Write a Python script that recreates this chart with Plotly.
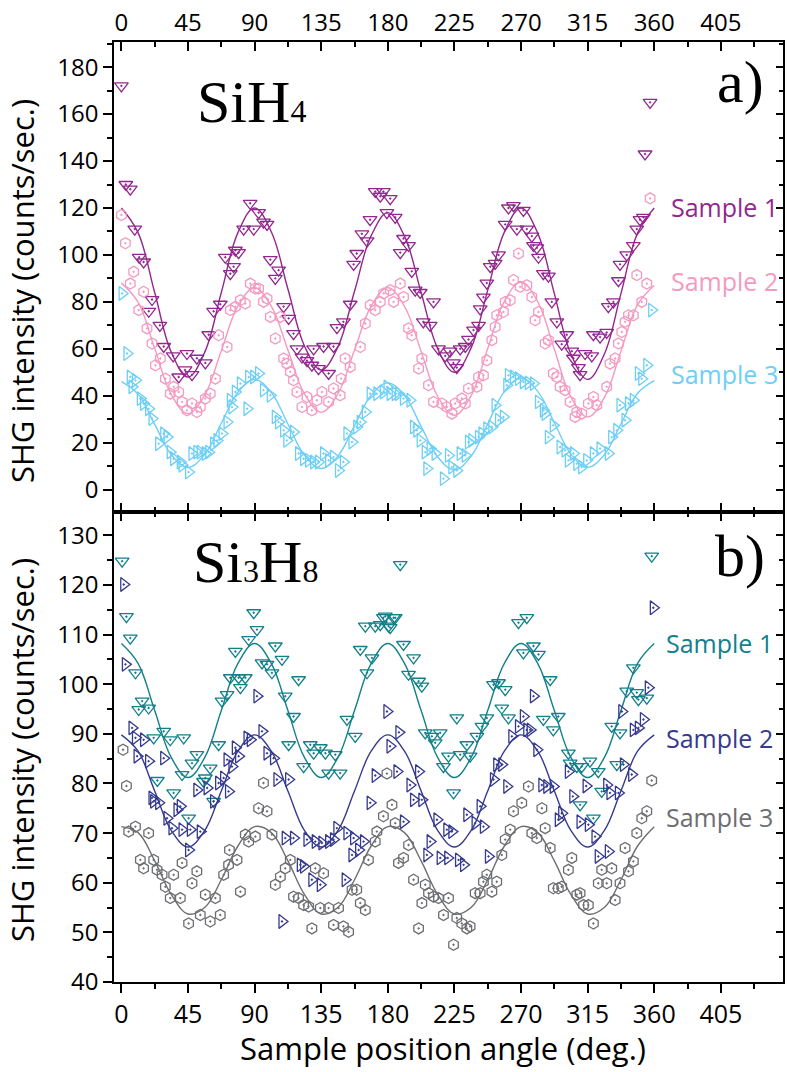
import plotly.graph_objects as go

# ---------------- SiH4 panel (top) ----------------
sih4_s1_angle = [0, 3, 6, 9, 12, 15, 18.5, 20.7, 26, 28.6, 35, 38.7, 43, 44.3, 47.7, 51, 56.7, 59, 62.3, 66.8,
                 70.2, 73.6, 75.8, 77, 79.2, 82.6, 87, 89.4, 92.7, 96, 98.4, 100.6, 104, 106.2, 109.6, 113, 116.3,
                 118.6, 122, 125.4, 128.7, 129.9, 133.2, 136.6, 140, 143.3, 145.6, 150, 154.6, 156.9, 159, 162.5,
                 166, 168, 171.5, 174.9, 177, 179.4, 181.6, 185, 188.4, 190.6, 194, 196.2, 198.5, 201.9, 204,
                 208.6, 210.9, 214.2, 218.8, 222, 224.3, 226.6, 228.9, 232.3, 234.5, 237.9, 241.3, 242.4, 244.6,
                 246.9, 249.2, 252.5, 254.8, 259.3, 261.5, 264.9, 267.2, 271.6, 273.9, 277.3, 278.4, 280.7, 281.8,
                 285.1, 288.5, 290.8, 294.2, 297.5, 300.9, 304.3, 305.4, 308.8, 309.9, 313.3, 317.8, 318.9, 323.4,
                 327.9, 329, 332.4, 335.8, 336.9, 341.4, 345.9, 348.2, 350.4, 352.7, 353.8, 357.2]
sih4_s1_shg = [172, 130, 128, 111, 99, 97, 76, 81, 70, 61, 57, 48, 51, 58, 49, 56, 54, 66, 76, 79,
               99, 92, 95, 102, 101, 111, 122, 111, 118, 114, 113, 98, 90, 93.5, 78, 73, 66.5,
               60, 56.5, 55, 53, 60, 51.6, 61, 49.5, 61, 69, 71.5, 79, 96, 100.6, 109,
               106, 115, 127, 125, 127, 118, 124, 116, 101, 107, 104, 93, 85, 84, 71.5,
               70, 80, 60, 57, 59, 54, 52, 60, 61, 64, 68, 70, 77, 82,
               88, 95, 96.4, 100, 113, 120, 121, 111, 119, 111, 108, 104, 103, 99,
               92, 91, 80, 71.5, 62, 66, 59, 56, 52, 49, 58, 57, 66, 65,
               67, 78, 80, 89, 96, 100, 104, 111, 115, 116, 143, 165]

sih4_s2_angle = [0, 2.7, 6, 8.3, 11.7, 15, 17.3, 20.7, 23, 26.3, 29.7, 33, 35.3, 38.7, 41, 44.3, 47.7, 51, 53.3,
                 56.7, 60, 63.5, 65.7, 71.4, 73.6, 77, 80.4, 83.7, 87.1, 90.5, 92.7, 96, 98.4, 100.6, 104, 107.4,
                 109.6, 111.8, 114.1, 116.3, 118.6, 122, 125.4, 128.7, 132.1, 135.5, 140, 143.3, 147.8, 148.5,
                 151.2, 154.6, 161.4, 164.8, 168.1, 171.5, 174.9, 177.2, 181.6, 183.9, 188.4, 190.6, 194, 196.2,
                 200.8, 203, 207.5, 210.9, 216.5, 219.9, 223.3, 225.5, 230, 232.3, 234.5, 240.2, 241.3, 244.6,
                 246.9, 250.3, 252.5, 253.6, 258.1, 259.3, 262.7, 264.9, 268.3, 269.4, 273.9, 277.3, 279.5, 281.8,
                 286.3, 288.5, 291.8, 294.2, 296.4, 299.8, 303.2, 306.5, 307.7, 311, 315.5, 318.9, 321.2, 327.9,
                 330.1, 333.6, 335.8, 338.1, 340.3, 342.6, 345.9, 348.2, 351.6, 355, 357.2]
sih4_s2_shg = [117, 105, 87.8, 92.8, 76.5, 84.3, 68.7, 62.3, 53, 55.9, 47.3, 40.9, 43.8, 41.6, 37.4, 33.8, 36.7,
               33.1, 35.2, 38.8, 40.9, 47.3, 65.8, 60.8, 76.5, 77.9, 80.7, 79.3, 87.8, 85.7, 85.7, 80, 81.4, 73.6,
               64.4, 73.6, 55.9, 53.7, 50.2, 46.6, 41.6, 35.2, 39.5, 33.8, 38.1, 41.6, 37.4, 43.1, 40.2, 47.3,
               55.9, 52.3, 60.8, 70.8, 78.6, 76.5, 80, 83.6, 85, 80, 87.8, 82.1, 68.7, 65.8, 51.6, 55.9, 44.5,
               37.4, 36.7, 35.2, 32.4, 36.7, 38.8, 36.7, 43.1, 43.8, 48, 48.7, 55.1, 63.7, 69.3, 74.3, 75.7, 80,
               80.7, 89.3, 100.6, 86.4, 87.1, 82.1, 72.2, 75.7, 62.3, 63.7, 49.5, 48, 43.8, 42.4, 37.4, 31, 33.1,
               32.4, 36.7, 39.5, 36, 43.8, 53.7, 55.9, 62.3, 67.2, 71.5, 74.3, 74.3, 91.4, 80, 87.8, 124.1]

sih4_s3_angle = [0.5, 3.8, 6, 7.2, 9.5, 12.8, 15, 18.4, 20.7, 25.2, 28.6, 30.9, 33, 35.3, 39.8, 41, 45.4, 47.7,
                 51, 53.3, 56.7, 59, 62.3, 64.6, 68, 71.4, 73.6, 74.7, 77, 80.4, 84.9, 86, 89.4, 92.7, 96, 100.6,
                 104, 106.2, 109.6, 111.8, 116.3, 119.7, 123.1, 126.5, 129.9, 133.2, 136.6, 140, 143.3, 146.7, 150,
                 152.4, 155.8, 159, 161.4, 164.8, 168.1, 172.6, 177, 179.5, 181.6, 185, 187.2, 190.6, 195, 197.4,
                 199.6, 201.9, 205.3, 206.4, 208.6, 212, 217.6, 221, 223.3, 226.6, 228.9, 232.3, 234.5, 236.8,
                 241.3, 243.6, 246.9, 250.3, 252.5, 254.8, 258.1, 260.4, 261.5, 264.9, 268.3, 271.6, 275, 278.4,
                 281.8, 285.1, 286.3, 288.5, 291.8, 296.4, 299.8, 302, 305.4, 307.7, 311, 314.4, 318.9, 323.4, 329,
                 331.3, 334.7, 336.9, 340.3, 342.6, 345.9, 349.3, 351.6, 355, 358.3]
sih4_s3_shg = [83.6, 58, 48, 43.8, 46.6, 38.8, 36.7, 34.5, 30.3, 19.6, 23.9, 22.4, 16, 13.2, 11.8, 10.4, 7.5,
               15.4, 16, 16, 15.4, 16, 19.6, 21, 23.9, 28.8, 38.1, 35.2, 41.6, 45.2, 34.5, 48, 48, 49.5, 42.4,
               40.2, 31, 28.8, 25.3, 21, 24.6, 15.4, 13.2, 12.5, 11.8, 11.8, 15.4, 12.5, 13.9, 8.2, 11.8, 23.9,
               20.3, 26.7, 28.8, 33.1, 40.9, 40.9, 41.6, 43.8, 40.9, 40.9, 40.9, 38.8, 38.1, 26.7, 25.3, 21, 16,
               9, 17.5, 15.4, 4.7, 14.6, 9.6, 8.2, 15.4, 14.6, 20.3, 21, 22.4, 23.9, 26, 26.7, 36, 29.6, 31,
               44.5, 48.7, 48, 47.3, 45.9, 45.5, 45.2, 37.4, 33.8, 32.4, 22.4, 27.4, 18.2, 16.8, 12.5, 15.4, 11.1,
               9.6, 12.5, 15.4, 17.5, 15.4, 22.4, 25.3, 36, 29.6, 36.7, 38.1, 49.5, 47.3, 53, 76.5]

# fitted curves, sampled every 11.25 deg
fit_angle = [0, 11.25, 22.5, 33.75, 45, 56.25, 67.5, 78.75, 90, 101.25, 112.5, 123.75, 135, 146.25, 157.5,
             168.75, 180, 191.25, 202.5, 213.75, 225, 236.25, 247.5, 258.75, 270, 281.25, 292.5, 303.75, 315,
             326.25, 337.5, 348.75, 360]
sih4_s1_fit = [120, 109.5, 84, 58.5, 48, 58.5, 84, 109.5, 120, 109.9, 85.5, 61.1, 51, 60.8, 84.5, 108.2, 118,
               108, 84, 60, 50, 60.3, 85, 109.7, 120, 109.3, 83.5, 57.7, 47, 57.7, 83.5, 109.3, 120]
sih4_s2_fit = [88, 79.9, 60.2, 40.5, 32.4, 40.3, 59.2, 78.2, 86, 78.2, 59.5, 40.8, 33, 40.8, 59.5, 78.2, 86,
               78.1, 58.9, 39.7, 31.7, 40, 60.1, 80.2, 88.5, 80.1, 59.8, 39.4, 31, 39.2, 59, 78.8, 87]
sih4_s3_fit = [46, 40.7, 27.8, 14.9, 9.5, 15, 28.3, 41.5, 47, 41.4, 28, 14.6, 9, 14.3, 27.3, 40.2, 45.5,
               40.1, 27, 13.9, 8.5, 14.2, 28, 41.8, 47.5, 41.9, 28.5, 15.1, 9.5, 14.9, 28, 41.1, 46.5]

# ---------------- Si3H8 panel (bottom) ----------------
si3h8_s1_angle = [0.5, 3.4, 6, 9.5, 11.7, 14, 18.4, 21.8, 24.3, 28.6, 33, 35.3, 41, 42.1, 45.4, 47.7, 51, 55.5,
                  56.7, 60, 62.3, 65.7, 68, 71.4, 73.6, 77, 79.2, 80.4, 83.7, 86, 89.4, 91.6, 95, 98.4, 101.7,
                  104, 108.5, 110.7, 113, 116.3, 119.7, 123.1, 127.6, 129.9, 134.4, 137.8, 140, 144.5, 147.8,
                  152.4, 158, 161.4, 164.8, 165.9, 169.3, 171.5, 174.9, 177, 178.3, 180.5, 181.6, 183.9, 185,
                  188.4, 190.6, 194, 197.4, 200.8, 203, 205.3, 209.8, 212, 215.4, 217.6, 221, 224.4, 226.6, 228.9,
                  233.4, 235.6, 240.2, 243.6, 246.9, 251.4, 254.8, 257, 259.3, 261.5, 268.3, 271.6, 273.9, 278.4,
                  281.8, 285.1, 289.7, 291.8, 295.2, 302, 303.2, 307.7, 309.9, 311, 316.6, 318.9, 322.2, 324.5,
                  331.3, 334.7, 336.9, 341.4, 345.9, 348.2, 349.3, 355, 358.3]
si3h8_s1_shg = [124.8, 113.6, 109.3, 102.3, 94.9, 96.6, 95.2, 89.2, 80.6, 90.5, 88.8, 78.1, 81.8, 89.2, 73,
                84.1, 85.8, 80.4, 81.1, 83.1, 76.4, 87.8, 96.6, 97.9, 101.3, 106.6, 101.3, 99.3, 101.3, 109,
                114.4, 111, 104.3, 104, 102.3, 107.7, 105, 97.6, 87.8, 93.5, 100.9, 83.4, 87.8, 86.1, 87.2, 86.1,
                82.1, 85.8, 82.1, 92.9, 89.5, 107, 111.7, 102.3, 105.3, 111.7, 112, 113.4, 113.7, 111.7, 111.4,
                113.4, 113.4, 124.1, 108, 102, 105.3, 100.6, 99.6, 90.2, 89.5, 88.2, 90.2, 83.4, 85.5, 78.1, 93.2,
                85.8, 87.8, 85.5, 89.5, 91.5, 93.2, 99.9, 100.3, 95.2, 98.9, 93.2, 112.4, 106.3, 113.4, 107.7, 106,
                92.9, 100.9, 90.8, 93.5, 86.1, 84.1, 83.4, 75.7, 83.4, 84.5, 73, 82.4, 78.4, 91.5, 83.8, 90.2,
                98.6, 103.3, 98.3, 96.9, 97.2, 125.8]

si3h8_s2_angle = [1.6, 2.7, 7.2, 9.5, 10.6, 15, 18.4, 20.7, 21.8, 25.2, 28.6, 30.8, 34.2, 37.6, 39.8, 41, 45.4,
                  46.6, 51, 53.3, 57.9, 62.3, 65.7, 69.1, 71.4, 72.4, 74.7, 77, 79.2, 84.9, 87.1, 91.6, 95, 98.4,
                  102.8, 105.1, 108.5, 110.7, 113, 116.3, 120.9, 123.1, 125.4, 128.7, 131, 134.4, 135.5, 140,
                  143.3, 145.6, 151.2, 152.4, 155.8, 156.9, 160.3, 163.6, 168.1, 171.5, 179.4, 181.5, 186.2,
                  187.5, 190.6, 195, 197.4, 200.8, 203, 206.4, 208.6, 213.2, 215.4, 219.9, 220.5, 223.3, 227.8,
                  231.2, 233.4, 239, 242.4, 244.6, 248, 251.4, 253.6, 257, 260.4, 263.8, 268.3, 271.6, 273.9,
                  276.2, 278.4, 280.7, 284.1, 287.4, 291.8, 295.2, 297.5, 302, 305, 309.9, 314, 315.5, 320, 322.2,
                  327.9, 329, 330.1, 335.8, 338.1, 339.2, 344.8, 345.9, 349.3, 352.7, 356, 359.4]
si3h8_s2_shg = [120.1, 104, 91.2, 89.2, 85.5, 88.8, 84.5, 77.1, 76.4, 76.1, 85.1, 73, 71, 74.7, 75.4, 70.7,
                66.6, 70.7, 78.7, 70.3, 79.1, 76.4, 80.1, 81.1, 84.8, 78.4, 83.4, 87.2, 85.5, 89.2, 88.8, 97.6,
                90.5, 86.1, 85.1, 80.8, 52.2, 69, 80.8, 69, 63.6, 63.3, 68.7, 60.6, 68.3, 59.6, 68, 68.3, 68.7,
                71, 60.6, 70, 65.6, 69, 66.6, 68.3, 76.1, 81.6, 94.5, 87.5, 82.4, 90.3, 72.3, 79.7, 76.7, 82.4,
                76.7, 65.6, 68.3, 72.7, 65, 70.7, 65, 70.3, 64.6, 63.6, 73.7, 72, 75.4, 71.3, 65.3, 80.8, 83.8,
                83.8, 79.4, 89.5, 91.5, 93.5, 90.8, 90.8, 97.6, 86.8, 79.7, 79.4, 79.4, 72.7, 74, 82.4, 77.4,
                72.3, 79.5, 71.7, 69.3, 65.3, 79.7, 66.3, 78.1, 78.1, 94.5, 83.8, 81.8, 90.8, 91.2, 92.9, 99.3,
                115.4]

si3h8_s3_angle = [1.1, 3.4, 4.9, 9.5, 12.8, 15, 18.4, 21.8, 24.1, 27.5, 29.7, 33, 35.3, 39.8, 41, 45.4, 47.7,
                  51, 53.3, 56.7, 60, 63.5, 66.8, 69.1, 72.4, 73, 78.1, 80.4, 83.7, 86, 90.5, 92.7, 96, 98.4,
                  101.7, 104, 107.4, 110.7, 114.1, 116.3, 119.7, 123.1, 126.5, 128.7, 131, 134.4, 136.6, 140,
                  143.3, 146.7, 150, 153.5, 155.8, 159, 161.4, 164.8, 166.9, 171.5, 172.6, 177, 179.4, 182.8,
                  185, 187.2, 190.6, 194, 197.4, 200.8, 203, 205.3, 207.5, 210.9, 214.2, 217.6, 221, 224.4,
                  226.6, 230, 233.4, 235.6, 239, 242.4, 244.6, 246.9, 250.3, 253.6, 257, 259.3, 262.7, 264.9,
                  270.5, 275, 277.3, 280.7, 284.1, 286.3, 289.7, 291.8, 295.2, 297.5, 302, 304.3, 307.7, 309.9,
                  312.2, 315.5, 318.9, 322.2, 324.5, 327.9, 331.3, 333.6, 336.9, 340.3, 342.6, 345.9, 348.2,
                  351.6, 355, 358.3]
si3h8_s3_shg = [86.8, 79.5, 70.3, 71.3, 64.6, 62.9, 70, 64.6, 62.6, 61.6, 59.2, 56.9, 61.6, 56.9, 64, 51.8,
                59.9, 62.3, 53.5, 57.6, 52.2, 56.9, 53.5, 61.6, 63.6, 66.6, 64.6, 58.2, 69.7, 68.3, 69.3, 75,
                80.1, 74.4, 69.7, 59.6, 61.2, 62.9, 64.6, 57.2, 56.9, 55.5, 55.2, 50.8, 62.9, 54.9, 61.9, 54.9,
                51.5, 54.9, 51.2, 50.1, 58.6, 58.6, 55.9, 54.5, 64.6, 68.3, 70.3, 73.4, 82, 75.7, 72, 64, 65,
                67.6, 60.6, 50.8, 55.9, 59.6, 57.9, 57.2, 56.9, 53.5, 56.9, 47.5, 52.9, 51.8, 50.8, 51.2, 57.9,
                57.9, 60.2, 61.6, 58.2, 60.2, 65.6, 68.7, 70.7, 74.4, 76.1, 79.4, 70, 69, 75, 71, 67, 58.9,
                58.9, 59.2, 62.6, 65, 57.6, 57.9, 55.5, 55.5, 51.8, 59.9, 62.6, 59.9, 62.9, 56.5, 59.9, 67,
                62.3, 64.3, 70, 73, 74.4, 80.6]

si3h8_s1_fit = [108.2, 104.2, 94.7, 85.2, 81.2, 85.2, 94.7, 104.2, 108.2, 104.2, 94.7, 85.2, 81.2, 85.2, 94.7,
                104.2, 108.2, 104.2, 94.7, 85.2, 81.2, 85.2, 94.7, 104.2, 108.2, 104.2, 94.7, 85.2, 81.2, 85.2,
                94.7, 104.2, 108.2]
si3h8_s2_fit = [89.8, 86.5, 78.5, 70.5, 67.2, 70.5, 78.5, 86.5, 89.8, 86.5, 78.5, 70.5, 67.2, 70.5, 78.5, 86.5,
                89.8, 86.5, 78.5, 70.5, 67.2, 70.5, 78.5, 86.5, 89.8, 86.5, 78.5, 70.5, 67.2, 70.5, 78.5, 86.5,
                89.8]
si3h8_s3_fit = [71.3, 70.1, 64.4, 57.6, 53.7, 55.0, 60.6, 67.4, 71.3, 70.1, 64.4, 57.6, 53.7, 55.0, 60.6, 67.4,
                71.3, 70.1, 64.4, 57.6, 53.7, 55.0, 60.6, 67.4, 71.3, 70.1, 64.4, 57.6, 53.7, 55.0, 60.6, 67.4,
                71.3]

x_ticks = [0, 45, 90, 135, 180, 225, 270, 315, 360, 405]
x_minor_ticks = [22.5, 67.5, 112.5, 157.5, 202.5, 247.5, 292.5, 337.5, 382.5, 427.5]

PURPLE = "#93278F"
PINK = "#F49AC1"
SKY = "#6DCFF6"
TEAL = "#12808A"
NAVY = "#363A8E"
GRAY = "#6D6E71"

SANS = "Open Sans"
SERIF = "Liberation Serif"

fig = go.Figure()


def add_series(ang, val, fit_y, color, symbol, size, xa, ya):
    fig.add_trace(go.Scatter(x=fit_angle, y=fit_y, mode="lines",
                             line=dict(color=color, width=1.4, shape="spline", smoothing=1.1),
                             xaxis=xa, yaxis=ya, hoverinfo="skip", showlegend=False))
    fig.add_trace(go.Scatter(x=ang, y=val, mode="markers",
                             marker=dict(symbol=symbol, size=size, color=color,
                                         line=dict(color=color, width=1.3)),
                             xaxis=xa, yaxis=ya, showlegend=False))


add_series(sih4_s1_angle, sih4_s1_shg, sih4_s1_fit, PURPLE, "triangle-down-open-dot", 12, "x2", "y2")
add_series(sih4_s2_angle, sih4_s2_shg, sih4_s2_fit, PINK, "hexagon-open-dot", 11, "x2", "y2")
add_series(sih4_s3_angle, sih4_s3_shg, sih4_s3_fit, SKY, "triangle-right-open-dot", 12, "x2", "y2")

add_series(si3h8_s1_angle, si3h8_s1_shg, si3h8_s1_fit, TEAL, "triangle-down-open-dot", 12, "x", "y")
add_series(si3h8_s2_angle, si3h8_s2_shg, si3h8_s2_fit, NAVY, "triangle-right-open-dot", 12, "x", "y")
add_series(si3h8_s3_angle, si3h8_s3_shg, si3h8_s3_fit, GRAY, "hexagon-open-dot", 11, "x", "y")

# empty traces so the mirrored frame axes are created
for xa, ya in [("x3", "y"), ("x4", "y2"), ("x", "y3"), ("x2", "y4")]:
    fig.add_trace(go.Scatter(x=[None], y=[None], xaxis=xa, yaxis=ya, showlegend=False, hoverinfo="skip"))

X_RANGE = [-5, 447]
TOP_RANGE = [-9.5, 190.7]
BOT_RANGE = [40, 134.7]
LINE = dict(showline=True, linecolor="black", linewidth=1.5, showgrid=False, zeroline=False,
            tickcolor="black", tickwidth=1.5)


def x_axis(ticks, labels, **kw):
    d = dict(range=X_RANGE, tickmode="array", tickvals=x_ticks, ticks=ticks, ticklen=9,
             showticklabels=labels, tickfont=dict(family=SANS, size=24, color="black"),
             minor=dict(tickmode="array", tickvals=x_minor_ticks, ticks=ticks,
                        ticklen=5, tickcolor="black", tickwidth=1.5, showgrid=False),
             **LINE)
    d.update(kw)
    return d


def y_axis(rng, dtick, ticks, labels, ticklen, minorlen, **kw):
    d = dict(range=rng, tick0=0, dtick=dtick, ticks=ticks, ticklen=ticklen, showticklabels=labels,
             tickfont=dict(family=SANS, size=24, color="black"),
             minor=dict(dtick=dtick / 2, tick0=0, ticks=ticks, ticklen=minorlen, tickcolor="black",
                        tickwidth=1.5, showgrid=False),
             **LINE)
    d.update(kw)
    return d


fig.update_layout(
    width=787, height=1072,
    margin=dict(l=114, r=4, t=42, b=90),
    plot_bgcolor="white", paper_bgcolor="white",
    showlegend=False,
    xaxis=x_axis("outside", True, domain=[0, 1], anchor="y", side="bottom",
                 tickfont=dict(family=SANS, size=25, color="black")),
    xaxis3=x_axis("inside", False, overlaying="x", anchor="y", side="top"),
    xaxis2=x_axis("inside", False, domain=[0, 1], anchor="y2", side="bottom"),
    xaxis4=x_axis("inside", True, overlaying="x2", anchor="y2", side="top"),
    yaxis=y_axis(BOT_RANGE, 10, "outside", True, 9, 5, domain=[0, 0.5], anchor="x"),
    yaxis3=y_axis(BOT_RANGE, 10, "inside", False, 7, 4, overlaying="y", anchor="x", side="right"),
    yaxis2=y_axis(TOP_RANGE, 20, "outside", True, 9, 5, domain=[0.5, 1], anchor="x2"),
    yaxis4=y_axis(TOP_RANGE, 20, "inside", False, 7, 4, overlaying="y2", anchor="x2", side="right"),
)


def note(text, x, y, size, color="black", family=SANS, xanchor="center", angle=0):
    fig.add_annotation(text=text, x=x, y=y, xref="paper", yref="paper", showarrow=False,
                       xanchor=xanchor, yanchor="middle", textangle=angle,
                       font=dict(family=family, size=size, color=color))


def px_x(p):
    return (p - 114) / 669


def px_y(p):
    return (982 - p) / 940


note("SiH<span style='font-size:32px'>4</span>", px_x(251), px_y(102), 60, family=SERIF)
note("a)", px_x(740), px_y(82), 60, family=SERIF)
note("Si<span style='font-size:32px'>3</span>H<span style='font-size:32px'>8</span>",
     px_x(255), px_y(562), 60, family=SERIF)
note("b)", px_x(740), px_y(556), 60, family=SERIF)

note("Sample 1", px_x(669), px_y(207), 25, PURPLE, xanchor="left")
note("Sample 2", px_x(669), px_y(281), 25, PINK, xanchor="left")
note("Sample 3", px_x(669), px_y(374), 25, SKY, xanchor="left")
note("Sample 1", px_x(664), px_y(643), 25, TEAL, xanchor="left")
note("Sample 2", px_x(664), px_y(738), 25, NAVY, xanchor="left")
note("Sample 3", px_x(664), px_y(817), 25, GRAY, xanchor="left")

note("SHG intensity (counts/sec.)", px_x(22), px_y(291), 31, angle=-90)
note("SHG intensity (counts/sec.)", px_x(22), px_y(750), 31, angle=-90)
note("Sample position angle (deg.)", px_x(443), px_y(1048), 31)

fig.write_html("out.html")
